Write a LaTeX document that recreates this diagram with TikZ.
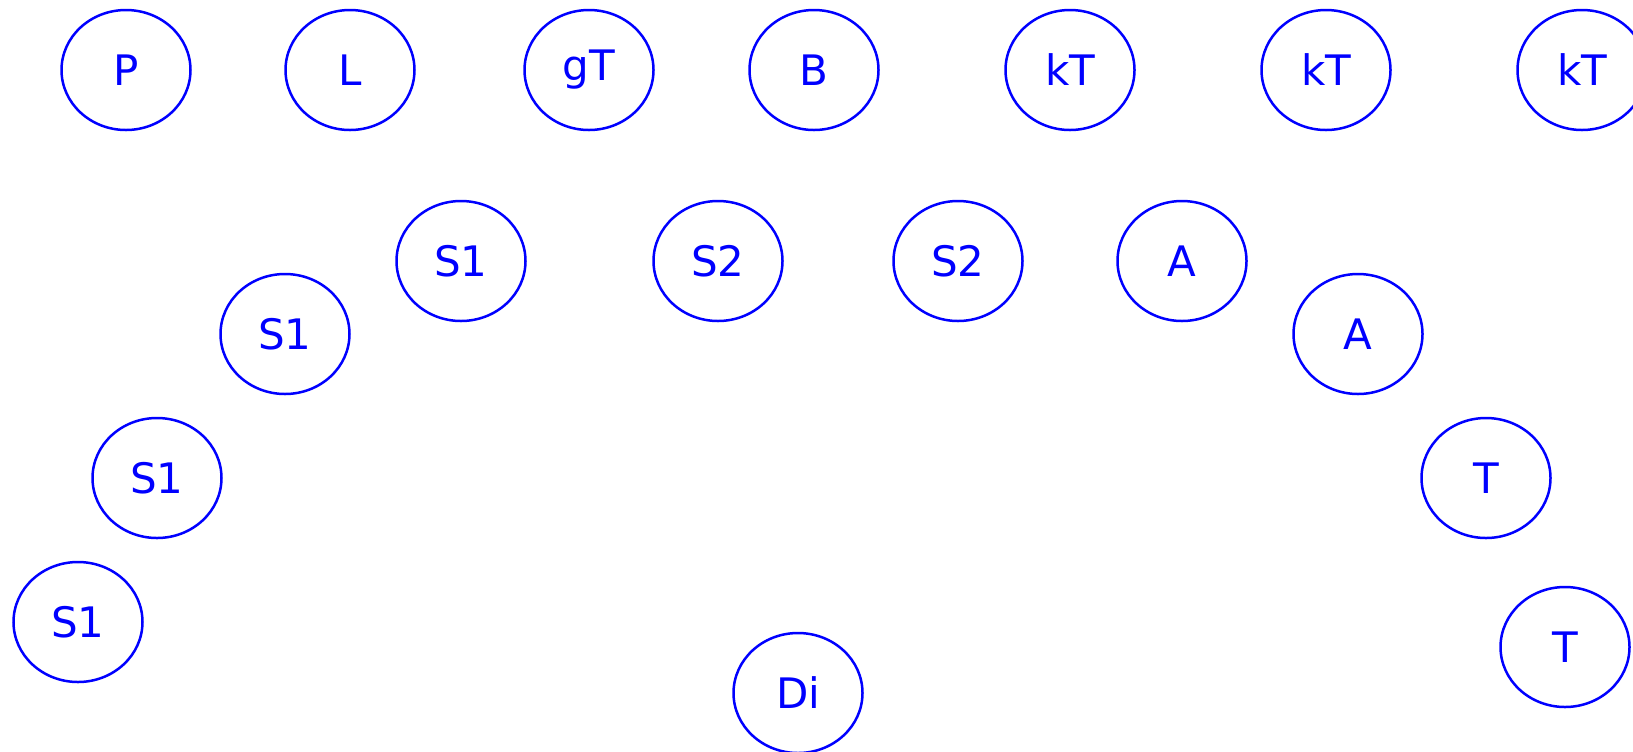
\documentclass[tikz,border=0pt]{standalone}
\usepackage{fontspec}
\setmainfont{DejaVu Sans}
\usetikzlibrary{shapes.geometric}

\begin{document}
\begin{tikzpicture}[
  x=0.5pt, y=-0.5pt,
  state/.style={draw=blue, ellipse, line width=1.25pt, text=blue, inner sep=0pt,
    minimum width=64.5pt, minimum height=60pt, font=\fontsize{21}{25}\selectfont}]
  \useasboundingbox (0,0) rectangle (1633,751);
  % top row
  \node[state] (p) at (126,70) {P};
  \node[state] (l) at (350,70) {L};
  \node[state] (gt) at (589,70) {gT};
  \node[state] (b) at (814,70) {B};
  \node[state] (kta) at (1070,70) {kT};
  \node[state] (ktb) at (1326,70) {kT};
  \node[state] (ktc) at (1582,70) {kT};
  % middle row
  \node[state] (s1a) at (461,261) {S1};
  \node[state] (s2a) at (718,261) {S2};
  \node[state] (s2b) at (958,261) {S2};
  \node[state] (aa) at (1182,261) {A};
  % left arc
  \node[state] (s1b) at (285,334) {S1};
  \node[state] (s1c) at (157,478) {S1};
  \node[state] (s1d) at (78,622) {S1};
  % right arc
  \node[state] (ab) at (1358,334) {A};
  \node[state] (ta) at (1486,478) {T};
  \node[state] (tb) at (1565,647) {T};
  % bottom
  \node[state] (di) at (798,693) {Di};
\end{tikzpicture}
\end{document}
